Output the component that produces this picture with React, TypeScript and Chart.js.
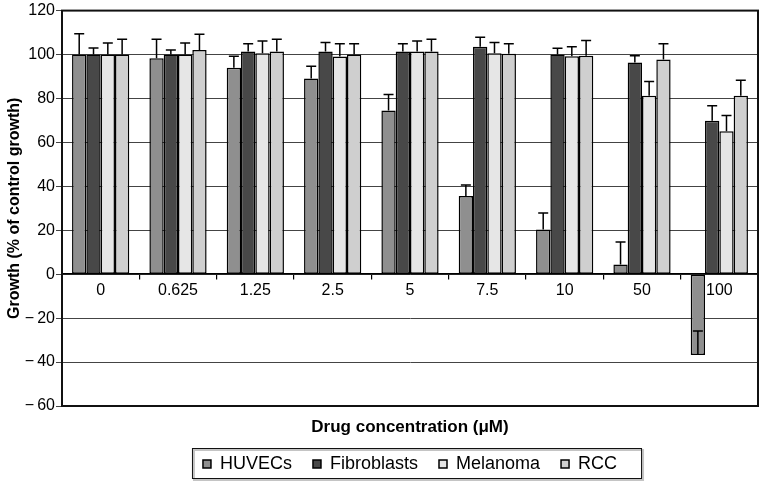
import React, { useEffect, useRef } from 'react';
import { Chart, registerables } from 'chart.js';

Chart.register(...registerables);

const concentrations = ['0', '0.625', '1.25', '2.5', '5', '7.5', '10', '50', '100'];

const huvecs = [100, 98.3, 94, 89.1, 74.5, 35.6, 20.3, 4.4, -36.8];
const huvecsErr = [9.5, 8.7, 5.2, 5.6, 7.3, 5, 7.6, 10.3, 10.9];
const fibroblasts = [100, 100, 101.4, 101.4, 101.4, 103.6, 100, 96.4, 69.8];
const fibroblastsErr = [3, 2.1, 3.5, 4.1, 3.5, 4.3, 2.9, 3, 6.9];
const melanoma = [100, 100, 100.6, 99.1, 101.4, 100.6, 99.2, 81.2, 65.1];
const melanomaErr = [5.3, 5.3, 5.6, 5.8, 4.8, 4.9, 4.4, 6.5, 7.2];
const rcc = [100, 102.1, 101.4, 100, 101.4, 100.3, 99.5, 97.7, 81.2];
const rccErr = [7, 7.1, 5.6, 4.9, 5.6, 4.6, 6.9, 7.2, 7.1];

const yMin = -60;
const yMax = 120;
const yStep = 20;

const FONT = "'Liberation Sans', Arial, Helvetica, sans-serif";

export default function App() {
  const ref = useRef<HTMLCanvasElement>(null);

  useEffect(() => {
    document.body.style.margin = '0';
    if (!ref.current) return;

    const errorBars = {
      id: 'errorBars',
      afterDatasetsDraw(chart: any) {
        const ctx = chart.ctx;
        const y = chart.scales.y;
        chart.data.datasets.forEach((ds: any, i: number) => {
          const meta = chart.getDatasetMeta(i);
          meta.data.forEach((bar: any, j: number) => {
            const v = ds.data[j] as number;
            const top = y.getPixelForValue(v + ds.errors[j]);
            ctx.save();
            ctx.strokeStyle = '#000';
            ctx.lineWidth = 1.5;
            ctx.beginPath();
            ctx.moveTo(bar.x, bar.y);
            ctx.lineTo(bar.x, top);
            ctx.moveTo(bar.x - 5, top);
            ctx.lineTo(bar.x + 5, top);
            ctx.stroke();
            ctx.restore();
          });
        });
      },
    };

    const frame = {
      id: 'frame',
      beforeDatasetsDraw(chart: any) {
        const { left, top, right, bottom } = chart.chartArea;
        const ctx = chart.ctx;
        ctx.save();
        ctx.strokeStyle = '#111';
        ctx.lineWidth = 2;
        ctx.strokeRect(left, top, right - left, bottom - top);
        ctx.restore();
      },
      afterDraw(chart: any) {
        const lg = chart.legend;
        if (!lg || !lg.legendHitBoxes || !lg.legendHitBoxes.length) return;
        const hb = lg.legendHitBoxes;
        let l = Infinity, r = -Infinity, t = Infinity, b = -Infinity;
        hb.forEach((h: any) => {
          l = Math.min(l, h.left);
          r = Math.max(r, h.left + h.width);
          t = Math.min(t, h.top);
          b = Math.max(b, h.top + h.height);
        });
        const ctx = chart.ctx;
        ctx.save();
        ctx.strokeStyle = '#c4c4c4';
        ctx.lineWidth = 2;
        ctx.strokeRect(l - 9, t - 5, r - l + 35, b - t + 12);
        ctx.strokeStyle = '#111';
        ctx.lineWidth = 1;
        ctx.strokeRect(l - 10.5, t - 6.5, r - l + 35, b - t + 12);
        ctx.restore();
      },
    };

    const mk = (label: string, data: number[], errors: number[], color: string) => ({
      label,
      data,
      errors,
      backgroundColor: color,
      borderColor: '#000',
      borderWidth: 1.5,
      borderSkipped: false,
    });

    const chart = new Chart(ref.current, {
      type: 'bar',
      data: {
        labels: concentrations,
        datasets: [
          mk('HUVECs', huvecs, huvecsErr, '#8f8f8f'),
          mk('Fibroblasts', fibroblasts, fibroblastsErr, '#484848'),
          mk('Melanoma', melanoma, melanomaErr, '#e6e6e6'),
          mk('RCC', rcc, rccErr, '#cfcfcf'),
        ] as any,
      },
      options: {
        animation: false,
        responsive: false,
        devicePixelRatio: 1,
        layout: { padding: { top: 6, right: 2, left: 0, bottom: -2 } },
        datasets: {
          bar: { categoryPercentage: 0.74, barPercentage: 1 },
        } as any,
        plugins: {
          tooltip: { enabled: false },
          legend: {
            position: 'bottom',
            fullSize: false,
            labels: {
              boxWidth: 8,
              boxHeight: 8,
              padding: 21,
              color: '#000',
              font: { family: FONT, size: 18 },
            },
          },
        },
        scales: {
          x: {
            type: 'category',
            position: { y: 0 } as any,
            grid: {
              display: true,
              drawOnChartArea: false,
              drawTicks: true,
              tickLength: 5,
              offset: true,
              color: '#000',
              lineWidth: 1.2,
            },
            border: { display: true, color: '#000', width: 1.5 },
            ticks: {
              color: '#000',
              padding: 2,
              maxRotation: 0,
              autoSkip: false,
              font: { family: FONT, size: 16 },
            },
          },
          x2: {
            type: 'category',
            position: 'bottom',
            labels: concentrations,
            grid: { display: false },
            border: { display: false },
            ticks: { display: false },
            title: {
              display: true,
              text: 'Drug concentration (\u03bcM)',
              color: '#000',
              font: { family: FONT, size: 17, weight: 'bold' },
              padding: { top: 0, bottom: -4 },
            },
            afterFit(scale: any) {
              scale.height = 28;
            },
          } as any,
          y: {
            min: yMin,
            max: yMax,
            ticks: {
              stepSize: yStep,
              color: '#000',
              padding: 1,
              font: { family: FONT, size: 16 },
              callback: (v: any) => (Number(v) < 0 ? '\u2212\u2009' + Math.abs(Number(v)) : String(v)),
            },
            grid: {
              color: '#444',
              lineWidth: 1,
              tickLength: 6,
              drawTicks: true,
            },
            border: { display: true, color: '#000', width: 2 },
            title: {
              display: true,
              text: 'Growth (% of control growth)',
              color: '#000',
              font: { family: FONT, size: 16, weight: 'bold' },
              padding: { top: 5, bottom: 0 },
            },
            afterFit(scale: any) {
              scale.width = 62;
            },
          },
        },
      },
      plugins: [errorBars, frame],
    });

    return () => chart.destroy();
  }, []);

  return (
    <div style={{ width: 760, height: 481 }}>
      <canvas ref={ref} width={760} height={481} style={{ display: 'block', width: 760, height: 481 }} />
    </div>
  );
}
